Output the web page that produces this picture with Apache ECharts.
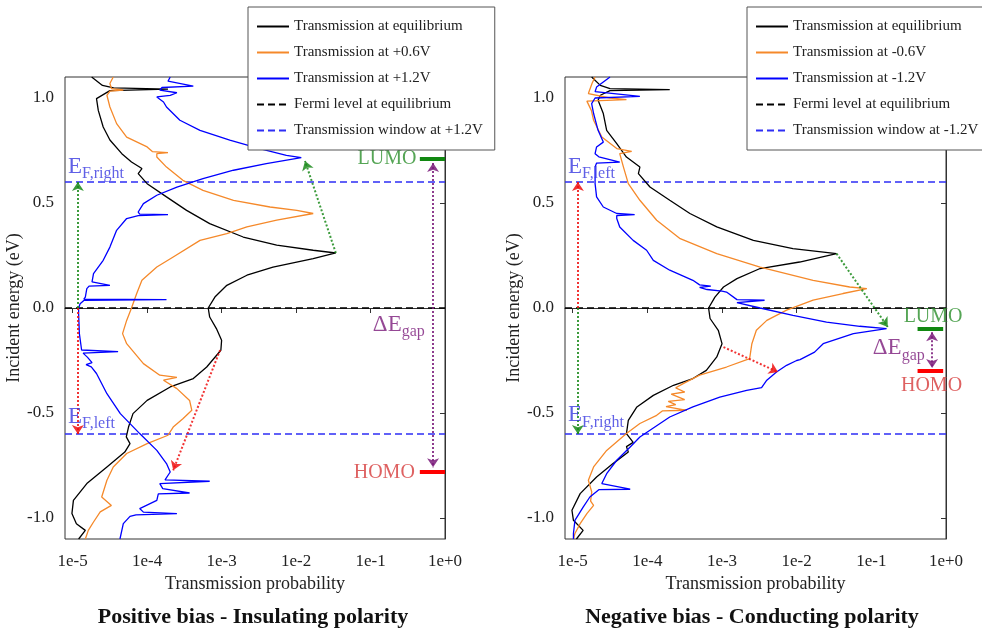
<!DOCTYPE html>
<html>
<head>
<meta charset="utf-8">
<script src="https://cdn.jsdelivr.net/npm/echarts@6/dist/echarts.min.js"></script>
<style>
  html, body { margin: 0; padding: 0; background: #fff; }
  #chart { width: 982px; height: 629px; }
</style>
</head>
<body>
<div id="chart"></div>
<script>
// transmission curves: [log10(T), energy in eV]
var posEq = [[-4.745,1.10],[-4.60,1.06],[-4.45,1.048],[-3.72,1.042],[-4.5,1.035],[-4.68,0.997],[-4.656,0.941],[-4.59,0.862],[-4.5,0.80],[-4.34,0.735],[-4.21,0.695],[-4.07,0.664],[-4.12,0.64],[-4.0,0.592],[-3.74,0.529],[-3.47,0.465],[-3.16,0.402],[-2.71,0.338],[-2.26,0.299],[-1.77,0.275],[-1.466,0.262],[-1.77,0.235],[-2.31,0.195],[-2.66,0.156],[-2.93,0.108],[-3.09,0.052],[-3.18,0.0],[-3.16,-0.043],[-3.07,-0.098],[-3.0,-0.154],[-3.01,-0.201],[-3.2,-0.281],[-3.38,-0.336],[-3.69,-0.376],[-4.0,-0.44],[-4.19,-0.503],[-4.25,-0.567],[-4.28,-0.614],[-4.23,-0.646],[-4.3,-0.686],[-4.54,-0.757],[-4.81,-0.836],[-4.99,-0.916],[-5.01,-0.979],[-4.95,-1.027],[-4.83,-1.059],[-4.92,-1.1]];
var posHalf = [[-4.455,1.10],[-4.5,1.069],[-4.48,1.045],[-4.32,1.038],[-4.5,1.033],[-4.54,1.013],[-4.5,0.957],[-4.41,0.878],[-4.275,0.814],[-4.0,0.767],[-3.93,0.745],[-3.72,0.74],[-3.87,0.735],[-3.87,0.719],[-3.74,0.671],[-3.52,0.608],[-3.25,0.56],[-2.84,0.513],[-2.35,0.481],[-1.99,0.465],[-1.77,0.45],[-2.26,0.418],[-2.66,0.386],[-2.93,0.354],[-3.29,0.322],[-3.65,0.243],[-3.87,0.195],[-4.07,0.132],[-4.14,0.069],[-4.21,0.0],[-4.275,-0.059],[-4.33,-0.122],[-4.275,-0.17],[-4.05,-0.265],[-3.83,-0.32],[-3.6,-0.33],[-3.78,-0.344],[-3.6,-0.384],[-3.43,-0.44],[-3.40,-0.487],[-3.52,-0.527],[-3.65,-0.567],[-3.72,-0.606],[-4.0,-0.646],[-4.275,-0.693],[-4.455,-0.757],[-4.54,-0.82],[-4.61,-0.9],[-4.48,-0.94],[-4.63,-0.971],[-4.72,-1.019],[-4.79,-1.059],[-4.83,-1.1]];
var posFull = [[-3.69,1.10],[-3.72,1.08],[-3.38,1.057],[-3.8,1.05],[-3.83,1.037],[-3.6,1.025],[-3.69,1.013],[-3.87,1.005],[-3.78,0.981],[-3.74,0.957],[-3.56,0.894],[-3.29,0.846],[-2.89,0.799],[-2.49,0.759],[-2.13,0.727],[-1.93,0.716],[-2.40,0.688],[-2.84,0.656],[-3.25,0.616],[-3.60,0.576],[-3.87,0.537],[-4.05,0.497],[-4.12,0.457],[-4.10,0.447],[-3.72,0.445],[-4.12,0.44],[-4.275,0.426],[-4.41,0.37],[-4.5,0.29],[-4.59,0.227],[-4.72,0.164],[-4.74,0.124],[-4.5,0.108],[-4.78,0.104],[-4.81,0.092],[-4.83,0.052],[-4.85,0.042],[-3.74,0.04],[-4.85,0.036],[-4.90,0.02],[-4.92,0.0],[-4.92,-0.027],[-4.91,-0.122],[-4.88,-0.2],[-4.39,-0.208],[-4.86,-0.215],[-4.8,-0.235],[-4.74,-0.26],[-4.82,-0.27],[-4.75,-0.28],[-4.68,-0.312],[-4.54,-0.408],[-4.36,-0.503],[-4.10,-0.598],[-3.87,-0.678],[-3.74,-0.741],[-3.69,-0.781],[-3.76,-0.818],[-3.16,-0.825],[-3.83,-0.836],[-3.79,-0.86],[-3.43,-0.881],[-3.85,-0.885],[-3.87,-0.916],[-4.10,-0.955],[-4.05,-0.972],[-3.6,-0.979],[-4.15,-0.985],[-4.23,-0.992],[-4.32,-1.027],[-4.365,-1.1]];

var negEq = [[-4.746,1.10],[-4.63,1.06],[-4.5,1.045],[-3.70,1.04],[-4.5,1.035],[-4.63,1.013],[-4.66,0.989],[-4.59,0.926],[-4.545,0.846],[-4.41,0.783],[-4.28,0.719],[-4.10,0.671],[-4.12,0.64],[-3.965,0.576],[-3.70,0.513],[-3.43,0.45],[-3.07,0.386],[-2.58,0.322],[-2.05,0.283],[-1.466,0.259],[-1.96,0.219],[-2.49,0.188],[-2.80,0.14],[-2.98,0.1],[-3.095,0.052],[-3.18,0.0],[-3.16,-0.05],[-3.05,-0.106],[-3.0,-0.17],[-3.07,-0.233],[-3.21,-0.297],[-3.39,-0.336],[-3.65,-0.368],[-3.92,-0.416],[-4.14,-0.471],[-4.255,-0.535],[-4.28,-0.598],[-4.19,-0.64],[-4.28,-0.66],[-4.255,-0.686],[-4.46,-0.741],[-4.68,-0.805],[-4.90,-0.884],[-5.01,-0.963],[-4.99,-1.011],[-4.86,-1.059],[-4.95,-1.1]];
var negHalf = [[-4.70,1.10],[-4.74,1.07],[-4.79,1.021],[-4.5,1.0],[-4.28,0.992],[-4.81,0.985],[-4.81,0.981],[-4.75,0.941],[-4.72,0.894],[-4.61,0.814],[-4.41,0.759],[-4.21,0.746],[-4.37,0.735],[-4.37,0.727],[-4.32,0.671],[-4.255,0.592],[-4.10,0.513],[-3.875,0.418],[-3.56,0.33],[-3.07,0.259],[-2.49,0.195],[-1.78,0.132],[-1.29,0.1],[-1.06,0.092],[-1.38,0.069],[-1.78,0.037],[-2.135,-0.01],[-2.40,-0.059],[-2.54,-0.106],[-2.60,-0.17],[-2.63,-0.241],[-2.94,-0.281],[-3.30,-0.32],[-3.52,-0.36],[-3.62,-0.38],[-3.5,-0.40],[-3.68,-0.41],[-3.50,-0.436],[-3.72,-0.445],[-3.62,-0.46],[-3.75,-0.47],[-3.47,-0.487],[-3.80,-0.49],[-3.875,-0.511],[-4.10,-0.55],[-4.28,-0.598],[-4.545,-0.678],[-4.72,-0.757],[-4.79,-0.82],[-4.745,-0.876],[-4.76,-0.92],[-4.72,-0.94],[-4.81,-0.979],[-4.90,-1.027],[-4.97,-1.074],[-4.99,-1.1]];
var negFull = [[-4.50,1.10],[-4.59,1.076],[-4.68,1.052],[-4.70,1.03],[-4.10,1.008],[-4.70,1.0],[-4.746,0.973],[-4.72,0.926],[-4.66,0.846],[-4.59,0.79],[-4.68,0.767],[-4.70,0.735],[-4.65,0.72],[-4.37,0.695],[-4.68,0.69],[-4.70,0.671],[-4.70,0.592],[-4.68,0.529],[-4.59,0.481],[-4.41,0.45],[-4.17,0.445],[-4.41,0.44],[-4.41,0.426],[-4.37,0.386],[-4.19,0.322],[-4.01,0.275],[-3.92,0.227],[-3.70,0.18],[-3.39,0.132],[-3.30,0.11],[-3.15,0.104],[-3.30,0.098],[-3.20,0.088],[-3.0,0.08],[-2.94,0.076],[-2.80,0.04],[-2.43,0.037],[-2.80,0.026],[-2.49,0.0],[-2.05,-0.035],[-1.60,-0.067],[-1.155,-0.087],[-0.796,-0.098],[-1.24,-0.122],[-1.645,-0.17],[-1.76,-0.21],[-1.955,-0.246],[-2.0,-0.25],[-2.135,-0.273],[-2.27,-0.305],[-2.40,-0.344],[-2.47,-0.379],[-2.67,-0.392],[-3.03,-0.424],[-3.39,-0.471],[-3.70,-0.519],[-3.965,-0.582],[-4.10,-0.614],[-4.23,-0.662],[-4.41,-0.725],[-4.545,-0.789],[-4.61,-0.836],[-4.23,-0.863],[-4.65,-0.865],[-4.77,-0.9],[-4.86,-0.948],[-4.97,-1.011],[-4.99,-1.074],[-4.99,-1.1]];

// axes
var xMin = -5.103, xMax = 0;
var yMin = -1.1, yMax = 1.1;
var xTicks = [-5, -4, -3, -2, -1, 0];
var yTicks = [-1, -0.5, 0, 0.5, 1];
var fermi = 0;
var windowHalf = 0.6;

// annotations
var posLumo = 0.71, posHomo = -0.778;
var negLumo = -0.101, negHomo = -0.301;
var posGreenArrow = [[-1.466, 0.262], [-1.88, 0.70]];
var posRedArrow = [[-3.02, -0.20], [-3.65, -0.773]];
var negGreenArrow = [[-1.466, 0.259], [-0.78, -0.09]];
var negRedArrow = [[-2.98, -0.186], [-2.25, -0.305]];
var efArrowX = -4.93;

var SERIF = 'Liberation Serif';
var BLUE = '#0000ff', ORANGE = '#f5892a', GREEN = '#1a8a1a', RED = '#ee1111', PURPLE = '#7a1a7a';

function xAxis(i) {
  return {
    gridIndex: i, type: 'value', min: xMin, max: xMax,
    name: 'Transmission probability', nameLocation: 'middle', nameGap: 36,
    nameTextStyle: { fontFamily: SERIF, fontSize: 18, color: '#222' },
    axisLine: { lineStyle: { color: '#333' } },
    axisTick: { customValues: xTicks, length: 5, lineStyle: { color: '#333' } },
    axisLabel: {
      customValues: xTicks, margin: 14, fontFamily: SERIF, fontSize: 17, color: '#222',
      formatter: function (v) { return v < 0 ? '1e-' + (-v) : '1e+' + v; }
    },
    splitLine: { show: false }
  };
}
function yAxis(i) {
  return {
    gridIndex: i, type: 'value', min: yMin, max: yMax,
    name: 'Incident energy (eV)', nameLocation: 'middle', nameGap: 34, nameRotate: 90,
    nameTextStyle: { fontFamily: SERIF, fontSize: 18, color: '#222' },
    axisLine: { lineStyle: { color: '#333' } },
    axisTick: { customValues: yTicks, length: 5, lineStyle: { color: '#333' } },
    axisLabel: {
      customValues: yTicks, margin: 11, fontFamily: SERIF, fontSize: 17, color: '#222',
      formatter: function (v) { return v.toFixed(1); }
    },
    splitLine: { show: false }
  };
}

function curve(name, data, color, i) {
  return { name: name, type: 'line', xAxisIndex: i, yAxisIndex: i, data: data, symbol: 'none',
    lineStyle: { color: color, width: 1.3 }, itemStyle: { color: color }, z: 3 };
}
function hline(name, y, color, i) {
  return { name: name, type: 'line', xAxisIndex: i, yAxisIndex: i, data: [[xMin, y], [xMax, y]],
    symbol: 'none', lineStyle: { color: color, width: 1.3, type: [7, 4] }, itemStyle: { color: color }, z: 2 };
}
function arrows(list, i, heads) {
  return { type: 'lines', coordinateSystem: 'cartesian2d', xAxisIndex: i, yAxisIndex: i,
    symbol: heads, symbolSize: 9, z: 4,
    data: list.map(function (a) {
      return { coords: a[0], lineStyle: { color: a[1], width: 2, type: 'dotted', opacity: 0.85 } };
    }) };
}
function bars(list, i) {
  return { type: 'lines', coordinateSystem: 'cartesian2d', xAxisIndex: i, yAxisIndex: i,
    symbol: 'none', z: 4,
    data: list.map(function (a) {
      return { coords: a[0], lineStyle: { color: a[1], width: 4, opacity: 1 } };
    }) };
}
function sublabel(pos, main, sub, color, position) {
  return {
    value: pos,
    label: {
      show: true, position: position, distance: 0,
      formatter: '{e|' + main + '}{s|' + sub + '}',
      rich: {
        e: { fontFamily: SERIF, fontSize: 23, color: color },
        s: { fontFamily: SERIF, fontSize: 16, color: color, padding: [14, 0, 0, 0] }
      }
    }
  };
}
function plainlabel(pos, text, color, position) {
  return { value: pos,
    label: { show: true, position: position, distance: 0, formatter: text,
      fontFamily: SERIF, fontSize: 20, color: color } };
}
function texts(items, i) {
  return { type: 'scatter', xAxisIndex: i, yAxisIndex: i, symbolSize: 0, silent: true, z: 5,
    data: items };
}

function legend(left, names) {
  return {
    orient: 'vertical', left: left, top: 7, data: names,
    itemWidth: 32, itemHeight: 14, itemGap: 11,
    padding: [12, 12, 12, 8],
    itemStyle: { opacity: 0 },
    backgroundColor: '#fff', borderColor: '#555', borderWidth: 1, borderRadius: 0,
    textStyle: { fontFamily: SERIF, fontSize: 15, color: '#222' },
    z: 10
  };
}

var posNames = ['Transmission at equilibrium', 'Transmission at +0.6V', 'Transmission at +1.2V',
  'Fermi level at equilibrium', 'Transmission window at +1.2V'];
var negNames = ['Transmission at equilibrium', 'Transmission at -0.6V', 'Transmission at -1.2V',
  'Fermi level at equilibrium', 'Transmission window at -1.2V'];

var EFBLUE = '#3838e0';

var option = {
  animation: false,
  backgroundColor: '#fff',
  title: [
    { text: 'Positive bias - Insulating polarity', left: 248, top: 601, textAlign: 'center',
      textStyle: { fontFamily: SERIF, fontSize: 22, fontWeight: 'bold', color: '#111' } },
    { text: 'Negative bias - Conducting polarity', left: 747, top: 601, textAlign: 'center',
      textStyle: { fontFamily: SERIF, fontSize: 22, fontWeight: 'bold', color: '#111' } }
  ],
  legend: [legend(248, posNames), legend(747, negNames)],
  grid: [
    { left: 65, top: 77, width: 380, height: 462, show: true, borderColor: '#333', borderWidth: 1, backgroundColor: 'transparent' },
    { left: 565, top: 77, width: 381, height: 462, show: true, borderColor: '#333', borderWidth: 1, backgroundColor: 'transparent' }
  ],
  xAxis: [xAxis(0), xAxis(1)],
  yAxis: [yAxis(0), yAxis(1)],
  series: [
    // positive bias
    hline('Fermi level at equilibrium', fermi, '#000', 0),
    hline('Transmission window at +1.2V', windowHalf, '#2e2ef5', 0),
    hline('Transmission window at +1.2V', -windowHalf, '#2e2ef5', 0),
    curve('Transmission at equilibrium', posEq, '#000', 0),
    curve('Transmission at +0.6V', posHalf, ORANGE, 0),
    curve('Transmission at +1.2V', posFull, BLUE, 0),
    arrows([
      [[[efArrowX, fermi], [efArrowX, windowHalf]], GREEN],
      [[[efArrowX, fermi], [efArrowX, -windowHalf]], RED],
      [posGreenArrow, GREEN],
      [posRedArrow, RED]
    ], 0, ['none', 'arrow']),
    arrows([[[[-0.16, posLumo - 0.02], [-0.16, posHomo + 0.02]], PURPLE]], 0, ['arrow', 'arrow']),
    bars([
      [[[-0.338, posLumo], [0, posLumo]], '#118811'],
      [[[-0.338, posHomo], [0, posHomo]], '#ff0000']
    ], 0),
    texts([
      sublabel([-5.063, 0.671], 'E', 'F,right', EFBLUE, 'right'),
      sublabel([-5.063, -0.519], 'E', 'F,left', EFBLUE, 'right'),
      sublabel([-0.969, -0.082], 'ΔE', 'gap', PURPLE, 'right'),
      plainlabel([-0.383, posLumo], 'LUMO', '#2a8f2a', 'left'),
      plainlabel([-0.405, posHomo - 0.008], 'HOMO', '#d63a3a', 'left')
    ], 0),

    // negative bias
    hline('Fermi level at equilibrium', fermi, '#000', 1),
    hline('Transmission window at -1.2V', windowHalf, '#2e2ef5', 1),
    hline('Transmission window at -1.2V', -windowHalf, '#2e2ef5', 1),
    curve('Transmission at equilibrium', negEq, '#000', 1),
    curve('Transmission at -0.6V', negHalf, ORANGE, 1),
    curve('Transmission at -1.2V', negFull, BLUE, 1),
    arrows([
      [[[efArrowX, fermi], [efArrowX, windowHalf]], RED],
      [[[efArrowX, fermi], [efArrowX, -windowHalf]], GREEN],
      [negGreenArrow, GREEN],
      [negRedArrow, RED]
    ], 1, ['none', 'arrow']),
    arrows([[[[-0.186, negLumo - 0.015], [-0.186, negHomo + 0.015]], PURPLE]], 1, ['arrow', 'arrow']),
    bars([
      [[[-0.381, negLumo], [-0.038, negLumo]], '#118811'],
      [[[-0.381, negHomo], [-0.038, negHomo]], '#ff0000']
    ], 1),
    texts([
      sublabel([-5.063, 0.671], 'E', 'F,left', EFBLUE, 'right'),
      sublabel([-5.063, -0.511], 'E', 'F,right', EFBLUE, 'right'),
      sublabel([-0.98, -0.192], 'ΔE', 'gap', PURPLE, 'right'),
      plainlabel([-0.173, -0.043], 'LUMO', '#2a8f2a', 'inside'),
      plainlabel([-0.194, -0.368], 'HOMO', '#d63a3a', 'inside')
    ], 1)
  ]
};

var myChart = echarts.init(document.getElementById('chart'));
myChart.setOption(option);
</script>
</body>
</html>
